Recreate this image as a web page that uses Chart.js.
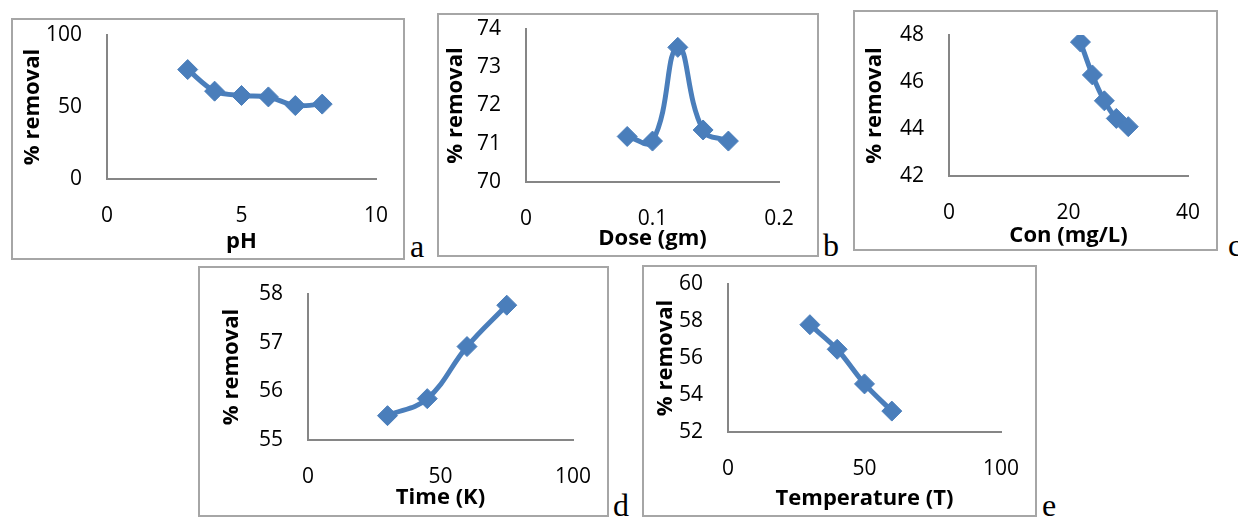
<!DOCTYPE html>
<html lang="en">
<head>
    <meta charset="UTF-8">
    <title>% removal</title>
    <script src="https://cdn.jsdelivr.net/npm/chart.js"></script>
    <style>
        body {
            margin: 0;
            width: 1238px;
            height: 518px;
            position: relative;
            overflow: hidden;
            background: #fff;
        }
        .frame {
            position: absolute;
            box-sizing: border-box;
            border: 2px solid #a6a6a6;
        }
        canvas {
            position: absolute;
        }
        .tag {
            position: absolute;
            font-family: "Liberation Serif", serif;
            font-size: 32px;
            line-height: 32px;
            color: #000;
        }
    </style>
</head>
<body>
    <div class="tag" style="left:410px; top:230px;">a</div>
    <div class="tag" style="left:823px; top:229px;">b</div>
    <div class="tag" style="left:1228px; top:229px;">c</div>
    <div class="tag" style="left:613px; top:489px;">d</div>
    <div class="tag" style="left:1042px; top:489px;">e</div>

    <script>
        // a: pH
        const phX = [3, 4, 5, 6, 7, 8];
        const phY = [76, 61, 58, 57, 51, 52];
        const phXTicks = [0, 5, 10];
        const phYTicks = [0, 50, 100];

        // b: dose
        const doseX = [0.08, 0.10, 0.12, 0.14, 0.16];
        const doseY = [71.19, 71.07, 73.52, 71.36, 71.07];
        const doseXTicks = [0, 0.1, 0.2];
        const doseYTicks = [70, 71, 72, 73, 74];

        // c: concentration
        const conX = [22, 24, 26, 28, 30];
        const conY = [47.7, 46.3, 45.2, 44.45, 44.1];
        const conXTicks = [0, 20, 40];
        const conYTicks = [42, 44, 46, 48];

        // d: time
        const timeX = [30, 45, 60, 75];
        const timeY = [55.5, 55.85, 56.92, 57.77];
        const timeXTicks = [0, 50, 100];
        const timeYTicks = [55, 56, 57, 58];

        // e: temperature
        const tempX = [30, 40, 50, 60];
        const tempY = [57.8, 56.47, 54.6, 53.13];
        const tempXTicks = [0, 50, 100];
        const tempYTicks = [52, 54, 56, 58, 60];

        const BLUE = '#4a7ebb';

        // box = frame [x0,y0,x1,y1], plot = axes [left,top,right,bottom] in page px
        const panels = [
            { xs: phX, ys: phY, xt: phXTicks, yt: phYTicks, xLabel: 'pH', tension: 0.3,
              box: [11, 18, 405, 260], plot: [107, 35, 376, 179], yTitlePad: 9, xTitlePad: 5 },
            { xs: doseX, ys: doseY, xt: doseXTicks, yt: doseYTicks, xLabel: 'Dose (gm)', tension: 0.45,
              box: [437, 13, 819, 257], plot: [526, 29, 779, 182], yTitlePad: 6, xTitlePad: 5 },
            { xs: conX, ys: conY, xt: conXTicks, yt: conYTicks, xLabel: 'Con (mg/L)', tension: 0.3,
              box: [853, 10, 1218, 251], plot: [949, 35, 1188, 176], yTitlePad: 9, xTitlePad: 2 },
            { xs: timeX, ys: timeY, xt: timeXTicks, yt: timeYTicks, xLabel: 'Time (K)', tension: 0.4,
              box: [198, 266, 609, 517], plot: [308, 294, 573, 440], yTitlePad: 21, xTitlePad: 6 },
            { xs: tempX, ys: tempY, xt: tempXTicks, yt: tempYTicks, xLabel: 'Temperature (T)', tension: 0.3,
              box: [642, 265, 1037, 517], plot: [728, 284, 1001, 432], yTitlePad: 11, xTitlePad: 5 }
        ];

        function drawPanel(p) {
            const [x0, y0, x1, y1] = p.box;
            const [l, t, r, b] = p.plot;

            const frame = document.createElement('div');
            frame.className = 'frame';
            frame.style.left = x0 + 'px';
            frame.style.top = y0 + 'px';
            frame.style.width = (x1 - x0) + 'px';
            frame.style.height = (y1 - y0) + 'px';
            document.body.appendChild(frame);

            const canvas = document.createElement('canvas');
            canvas.width = x1 - x0;
            canvas.height = y1 - y0;
            canvas.style.left = x0 + 'px';
            canvas.style.top = y0 + 'px';
            document.body.appendChild(canvas);

            const tickFont = { family: '"Open Sans", sans-serif', size: 21 };
            const titleFont = { family: '"Open Sans", sans-serif', size: 22, weight: 'bold' };

            new Chart(canvas.getContext('2d'), {
                type: 'scatter',
                data: {
                    datasets: [{
                        data: p.xs.map((x, i) => ({ x: x, y: p.ys[i] })),
                        showLine: true,
                        tension: p.tension,
                        borderColor: BLUE,
                        borderWidth: 5,
                        pointStyle: 'rectRot',
                        pointRadius: 10,
                        pointBackgroundColor: BLUE,
                        pointBorderColor: BLUE,
                        pointBorderWidth: 1
                    }]
                },
                options: {
                    responsive: false,
                    animation: false,
                    devicePixelRatio: 1,
                    layout: { padding: { top: t - y0, right: x1 - r, left: 0, bottom: 0 } },
                    plugins: { legend: { display: false }, tooltip: { enabled: false } },
                    scales: {
                        x: {
                            type: 'linear',
                            min: p.xt[0],
                            max: p.xt[p.xt.length - 1],
                            afterBuildTicks: s => { s.ticks = p.xt.map(v => ({ value: v })); },
                            afterFit: s => { s.height = y1 - b; s.paddingLeft = 0; s.paddingRight = 0; },
                            grid: { display: false, drawTicks: false },
                            border: { display: true, color: '#868686', width: 2 },
                            ticks: { color: '#000', font: tickFont, padding: 24, maxRotation: 0,
                                     callback: v => String(v) },
                            title: { display: true, text: p.xLabel, color: '#000', font: titleFont,
                                     padding: { top: 0, bottom: p.xTitlePad } }
                        },
                        y: {
                            type: 'linear',
                            min: p.yt[0],
                            max: p.yt[p.yt.length - 1],
                            afterBuildTicks: s => { s.ticks = p.yt.map(v => ({ value: v })); },
                            afterFit: s => { s.width = l - x0; s.paddingTop = 0; s.paddingBottom = 0; },
                            grid: { display: false, drawTicks: false },
                            border: { display: true, color: '#868686', width: 2 },
                            ticks: { color: '#000', font: tickFont, padding: 25,
                                     callback: v => String(v) },
                            title: { display: true, text: '% removal', color: '#000', font: titleFont,
                                     padding: { top: p.yTitlePad, bottom: 0 } }
                        }
                    }
                }
            });
        }

        panels.forEach(drawPanel);
    </script>
</body>
</html>
